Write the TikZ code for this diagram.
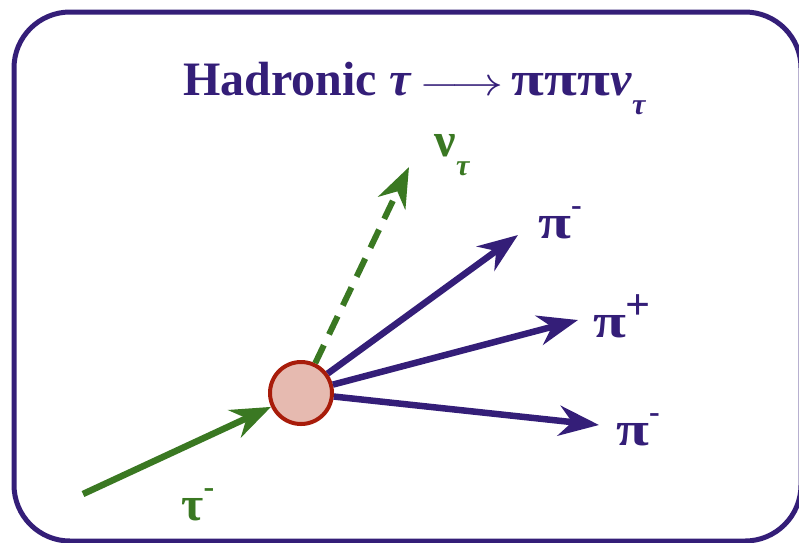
\documentclass[tikz,border=0pt]{standalone}
\usepackage{fontspec}
\usepackage{graphicx}
\setmainfont{Liberation Serif}
\usetikzlibrary{arrows.meta}
\definecolor{hadpurple}{RGB}{52,30,120}
\definecolor{nugreen}{RGB}{58,120,34}
\definecolor{vtxred}{RGB}{168,28,10}
\definecolor{vtxfill}{RGB}{230,186,176}
\newcommand{\chg}[1]{\raisebox{0.48em}{\fontsize{32}{32}\selectfont #1}}
\newcommand{\chgplus}{\raisebox{0.38em}{\fontsize{44}{44}\selectfont +}}
\newcommand{\lowtau}{\raisebox{-0.4em}{\fontsize{30}{30}\selectfont\itshape τ}}
\newcommand{\wpi}{\scalebox{1.25}[1]{π}}
\newcommand{\longto}{\scalebox{2.1}[1.6]{$\longrightarrow$}}
\tikzset{
  vertex/.style={circle,draw=vtxred,fill=vtxfill,line width=4pt,minimum size=62pt,inner sep=0pt},
  track/.style={line width=6.5pt,-{Stealth[length=40pt,width=30pt,inset=13pt]}},
  piline/.style={track,draw=hadpurple},
  tauline/.style={track,draw=nugreen},
  nuline/.style={track,draw=nugreen,line width=6pt,dash pattern=on 20pt off 12pt},
  lab/.style={font=\fontsize{48}{48}\selectfont\bfseries,inner sep=0pt}
}
\begin{document}
\begin{tikzpicture}[x=1pt,y=-1pt]
\useasboundingbox (0,0) rectangle (799,542);
\draw[line width=5pt,hadpurple,rounded corners=56pt] (14,12) rectangle (801,541);
\node[lab,text=hadpurple,anchor=base west] (title) at (183,95)
  {Hadronic \textit{τ}\,\longto\,\wpi\wpi\wpi\textit{ν}\lowtau};
% decay vertex
\node[vertex] (v) at (301,393) {};
\coordinate (tauin) at (83,494);
\coordinate (nutip) at (409,167);
\coordinate (pitipa) at (518,235);
\coordinate (pitipb) at (578,320);
\coordinate (pitipc) at (599,425);
\draw[tauline] (tauin) -- (v);
\draw[nuline] (v) -- (nutip);
\draw[piline] (v) -- (pitipa);
\draw[piline] (v) -- (pitipb);
\draw[piline] (v) -- (pitipc);
% labels
\node[lab,text=nugreen] (taulab) at (198,505) {τ\chg{-}};
\node[lab,text=nugreen] (nulab) at (452,155) {ν\lowtau};
\node[lab,text=hadpurple] (pilaba) at (560,223) {\wpi\chg{-}};
\node[lab,text=hadpurple] (pilabb) at (622,316) {\wpi\chgplus};
\node[lab,text=hadpurple] (pilabc) at (638,430) {\wpi\chg{-}};
\end{tikzpicture}
\end{document}
